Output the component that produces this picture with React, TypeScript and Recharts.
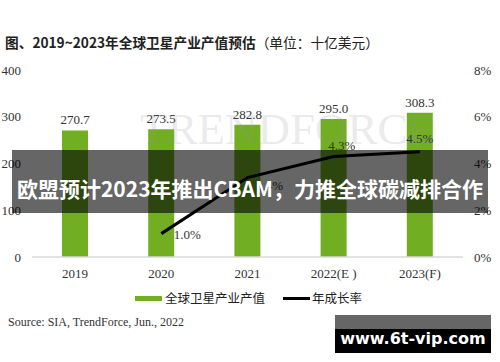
import React from "react";
import {
  ComposedChart,
  Bar,
  Line,
  XAxis,
  YAxis,
  LabelList,
} from "recharts";

const years = ["2019", "2020", "2021", "2022(E )", "2023(F)"];
const outputValues = [270.7, 273.5, 282.8, 295.0, 308.3];
const growthRates = [null, 1.0, 3.4, 4.3, 4.5];
const leftTicks = [0, 100, 200, 300, 400];
const rightTicks = [0, 2, 4, 6, 8];

const GREEN = "#72ae22";
const SERIF = "'Liberation Serif', 'Times New Roman', serif";
const CJK = "'Noto Sans CJK SC', 'Noto Sans', sans-serif";

const data = years.map((year, i) => ({
  year,
  value: outputValues[i],
  growth: growthRates[i],
}));

// offsets for growth labels, relative to the point
const growthLabelOffset = [
  [0, 0],
  [26, 5],
  [22, 12],
  [8, -6],
  [0, -9],
];

function GrowthLabel(props: any) {
  const { x, y, value, index } = props;
  if (value == null) return null;
  const [dx, dy] = growthLabelOffset[index] || [0, -8];
  return (
    <text
      x={x + dx}
      y={y + dy}
      textAnchor="middle"
      fill="#333"
      fontSize={13}
      fontFamily={SERIF}
    >
      {value.toFixed(1)}%
    </text>
  );
}

export default function App() {
  return (
    <div
      style={{
        position: "absolute",
        left: 0,
        top: 0,
        width: 500,
        height: 362,
        background: "#fff",
        overflow: "hidden",
      }}
    >
      <div
        style={{
          position: "absolute",
          left: 5,
          top: 33,
          fontSize: 13.7,
          fontFamily: CJK,
          color: "#222",
          whiteSpace: "nowrap",
          lineHeight: "18px",
        }}
      >
        <span style={{ fontWeight: 700 }}>图、2019~2023年全球卫星产业产值预估</span>
        <span>（单位：十亿美元）</span>
      </div>

      <ComposedChart
        width={500}
        height={362}
        data={data}
        margin={{ top: 70, right: 0, bottom: 75, left: 0 }}
        style={{ position: "absolute", left: 0, top: 0 }}
      >
        <XAxis
          dataKey="year"
          height={30}
          tickLine={false}
          axisLine={{ stroke: "#d9d9d9", strokeWidth: 1.5 }}
          tickMargin={6}
          tick={{ fill: "#333", fontSize: 13, fontFamily: SERIF }}
        />
        <YAxis
          yAxisId="left"
          domain={[0, 400]}
          ticks={leftTicks}
          width={32}
          tickLine={false}
          axisLine={false}
          tickMargin={5}
          tick={{ fill: "#333", fontSize: 13, fontFamily: SERIF }}
        />
        <YAxis
          yAxisId="right"
          orientation="right"
          domain={[0, 8]}
          ticks={rightTicks}
          width={37}
          tickLine={false}
          axisLine={false}
          tickMargin={5}
          tickFormatter={(v) => `${v}%`}
          tick={{ fill: "#333", fontSize: 13, fontFamily: SERIF }}
        />
        <Bar
          yAxisId="left"
          dataKey="value"
          fill={GREEN}
          barSize={26}
          isAnimationActive={false}
        >
          <LabelList
            dataKey="value"
            position="top"
            offset={6}
            fill="#333"
            fontSize={13}
            fontFamily={SERIF}
            formatter={(v: any) => Number(v).toFixed(1)}
          />
        </Bar>
        <Line
          yAxisId="right"
          dataKey="growth"
          stroke="#000"
          strokeWidth={3}
          dot={false}
          activeDot={false}
          isAnimationActive={false}
        >
          <LabelList dataKey="growth" content={<GrowthLabel />} />
        </Line>
      </ComposedChart>

      {/* faint TrendForce watermark */}
      <div
        style={{
          position: "absolute",
          left: 140,
          top: 104,
          fontSize: 45,
          fontFamily: SERIF,
          color: "rgba(150,150,150,0.2)",
          whiteSpace: "nowrap",
          lineHeight: "50px",
          pointerEvents: "none",
        }}
      >
        TRENDFORCE
      </div>

      {/* legend */}
      <div
        style={{
          position: "absolute",
          left: 135,
          top: 290,
          display: "flex",
          alignItems: "center",
          fontSize: 12.5,
          fontFamily: CJK,
          color: "#222",
          whiteSpace: "nowrap",
          lineHeight: "16px",
        }}
      >
        <span style={{ display: "inline-block", width: 27, height: 5, background: GREEN, marginRight: 3 }} />
        <span>全球卫星产业产值</span>
        <span style={{ display: "inline-block", width: 27, height: 3, background: "#000", marginLeft: 18, marginRight: 2 }} />
        <span>年成长率</span>
      </div>

      <div
        style={{
          position: "absolute",
          left: 8,
          top: 314,
          fontSize: 12,
          fontFamily: SERIF,
          color: "#333",
          whiteSpace: "nowrap",
          lineHeight: "16px",
        }}
      >
        Source: SIA, TrendForce, Jun., 2022
      </div>

      {/* headline banner overlay */}
      <div
        style={{
          position: "absolute",
          left: 12,
          top: 150,
          width: 476,
          height: 63,
          background: "rgba(0,0,0,0.6)",
          color: "#fff",
          fontSize: 21,
          fontWeight: 700,
          fontFamily: CJK,
          display: "flex",
          alignItems: "center",
          justifyContent: "center",
          whiteSpace: "nowrap",
          paddingTop: 12,
          boxSizing: "border-box",
        }}
      >
        欧盟预计2023年推出CBAM，力推全球碳减排合作
      </div>

      {/* site watermark */}
      <div
        style={{
          position: "absolute",
          left: 335,
          top: 315,
          width: 156,
          height: 38,
          background: "#000",
        }}
      >
        <div style={{ height: 14, background: "#666" }} />
        <div
          style={{
            position: "absolute",
            left: 0,
            top: 12,
            width: 156,
            textAlign: "center",
            color: "#fff",
            fontWeight: 700,
            fontSize: 16,
            fontFamily: "'DejaVu Sans', sans-serif",
            lineHeight: "24px",
          }}
        >
          www.6t-vip.com
        </div>
      </div>
    </div>
  );
}
